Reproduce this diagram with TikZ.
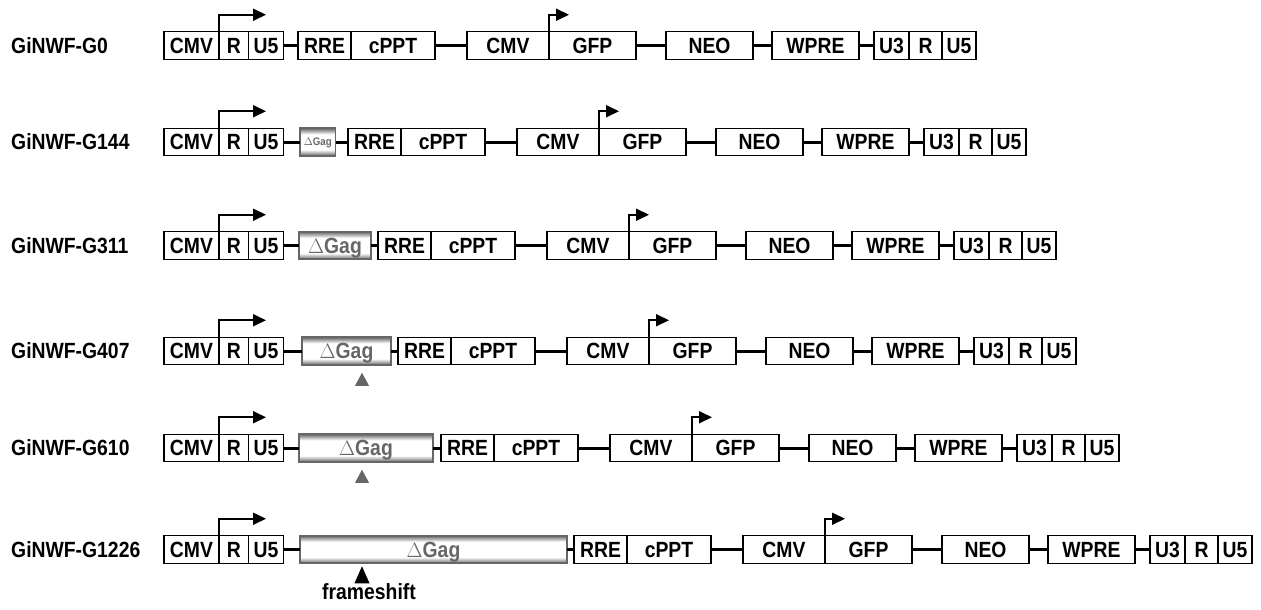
\documentclass[tikz,border=0pt]{standalone}
\usepackage{fontspec}
\newfontfamily\segfont{Liberation Sans}[FakeStretch=0.88]
\usetikzlibrary{positioning,arrows.meta}
\definecolor{gaggray}{gray}{0.4}
\pgfdeclareverticalshading{gagshade}{100bp}{color(0bp)=(gaggray); color(25bp)=(gaggray);
  color(36bp)=(white); color(64bp)=(white); color(75bp)=(gaggray); color(100bp)=(gaggray)}
\tikzset{
  seg/.style={draw, line width=1.3pt, minimum height=27.5pt, inner sep=0pt, outer sep=0pt,
    text height=15.7pt, text depth=0pt,
    anchor=west, font=\segfont\bfseries\fontsize{22}{24}\selectfont},
  gag/.style={seg, draw=gaggray, line width=1.6pt, shade, shading=gagshade, text=gaggray},
  lbl/.style={anchor=west, inner sep=0pt, font=\segfont\bfseries\fontsize{22}{24}\selectfont},
  link/.style={line width=3pt},
  promoter/.style={line width=1.8pt, -{Triangle[length=13pt,width=12pt]}}
}
\begin{document}
\begin{tikzpicture}[x=1pt, y=-1pt]
  \useasboundingbox (0,0) rectangle (1261,610);
  % one construct per row: y / name / gag x / gag width / RRE x / gag font size
  \foreach \y/\lab/\gx/\gw/\rx/\gs [count=\r] in {45.5/G0/0/0/298/0,
      142/G144/300/35.5/348/11, 245.5/G311/299/72/378/22,
      351/G407/302/89/398/22, 448/G610/299/134/441/22, 549.5/G1226/300/267/574/22}{
    \node[lbl] (name\r) at (11,\y) {GiNWF-\lab};
    % 5' LTR
    \node[seg, minimum width=55] (cmva\r) at (164,\y) {CMV};
    \node[seg, minimum width=29.5] (ra\r) at (cmva\r.east) {R};
    \node[seg, minimum width=35] (u5a\r) at (ra\r.east) {U5};
    \node[seg, minimum width=53] (rre\r) at (\rx,\y) {RRE};
    \node[seg, minimum width=84] (cppt\r) at (rre\r.east) {cPPT};
    \ifdim\gw pt>0pt
      \pgfmathsetmacro\gh{0.716*\gs}
      \node[gag, minimum width=\gw, text height=\gh pt,
        font=\segfont\bfseries\fontsize{\gs}{\gs}\selectfont]
        (gag\r) at (\gx,\y) {$\Delta$Gag};
      \draw[link] (u5a\r) -- (gag\r);
      \draw[link] (gag\r) -- (rre\r);
    \else
      \draw[link] (u5a\r) -- (rre\r);
    \fi
    % internal cassette and 3' LTR
    \node[seg, minimum width=82, right=32pt of cppt\r] (cmvb\r) {CMV};
    \node[seg, minimum width=87, right=0pt of cmvb\r] (gfp\r) {GFP};
    \node[seg, minimum width=87, right=30pt of gfp\r] (neo\r) {NEO};
    \node[seg, minimum width=87, right=19pt of neo\r] (wpre\r) {WPRE};
    \node[seg, minimum width=35, right=15pt of wpre\r] (u3\r) {U3};
    \node[seg, minimum width=33, right=0pt of u3\r] (rb\r) {R};
    \node[seg, minimum width=34, right=0pt of rb\r] (u5b\r) {U5};
    \draw[link] (cppt\r) -- (cmvb\r);
    \draw[link] (gfp\r) -- (neo\r);
    \draw[link] (neo\r) -- (wpre\r);
    \draw[link] (wpre\r) -- (u3\r);
    % promoters
    \draw[promoter] (ra\r.north west) -- ++(0,-17) -- ++(47,0);
    \draw[promoter] (gfp\r.north west) -- ++(0,-17) -- ++(20,0);
  }
  \coordinate (cut) at (362,0);
  \fill[gaggray] (gag4.south -| cut) ++(0,8) -- ++(7,13) -- ++(-14,0) -- cycle;
  \fill[gaggray] (gag5.south -| cut) ++(0,8) -- ++(7,13) -- ++(-14,0) -- cycle;
  \fill (gag6.south -| cut) ++(0,3) -- ++(7.5,17) -- ++(-15,0) -- cycle;
  \node[lbl, anchor=base] (fshift) at (369,599) {frameshift};
\end{tikzpicture}
\end{document}
